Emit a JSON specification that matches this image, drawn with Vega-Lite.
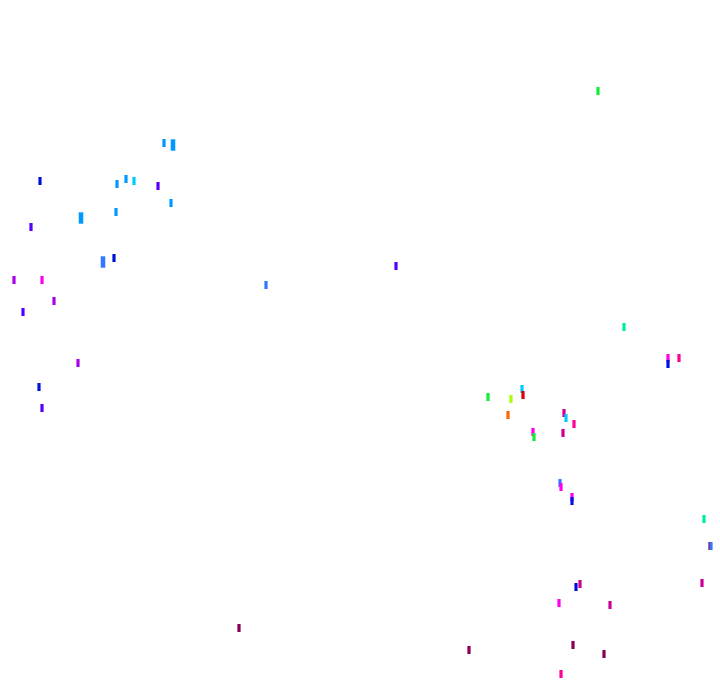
{
  "$schema": "https://vega.github.io/schema/vega-lite/v6.json",
  "width": 720,
  "height": 692,
  "autosize": {"type": "fit", "contains": "padding"},
  "padding": 0,
  "background": "white",
  "config": {"view": {"stroke": null}},
  "data": {
    "values": [
      {"x": 598, "y": 91, "g": "green", "w": 1},
      {"x": 164, "y": 143, "g": "skyblue", "w": 1},
      {"x": 173, "y": 145, "g": "skyblue", "w": 2},
      {"x": 40, "y": 181, "g": "navy", "w": 1},
      {"x": 117, "y": 184, "g": "skyblue", "w": 1},
      {"x": 126, "y": 179, "g": "skyblue", "w": 1},
      {"x": 134, "y": 181, "g": "cyan", "w": 1},
      {"x": 158, "y": 186, "g": "indigo", "w": 1},
      {"x": 171, "y": 203, "g": "skyblue", "w": 1},
      {"x": 116, "y": 212, "g": "skyblue", "w": 1},
      {"x": 81, "y": 218, "g": "skyblue", "w": 2},
      {"x": 31, "y": 227, "g": "indigo", "w": 1},
      {"x": 114, "y": 258, "g": "navy", "w": 1},
      {"x": 103, "y": 262, "g": "blue", "w": 2},
      {"x": 14, "y": 280, "g": "violet", "w": 1},
      {"x": 42, "y": 280, "g": "magenta", "w": 1},
      {"x": 54, "y": 301, "g": "violet", "w": 1},
      {"x": 23, "y": 312, "g": "indigo", "w": 1},
      {"x": 78, "y": 363, "g": "violet", "w": 1},
      {"x": 39, "y": 387, "g": "navy", "w": 1},
      {"x": 42, "y": 408, "g": "indigo", "w": 1},
      {"x": 266, "y": 285, "g": "blue", "w": 1},
      {"x": 396, "y": 266, "g": "indigo", "w": 1},
      {"x": 624, "y": 327, "g": "teal", "w": 1},
      {"x": 668, "y": 358, "g": "magenta", "w": 1},
      {"x": 668, "y": 364, "g": "navy", "w": 1},
      {"x": 679, "y": 358, "g": "pink", "w": 1},
      {"x": 522, "y": 389, "g": "cyan", "w": 1},
      {"x": 523, "y": 395, "g": "red", "w": 1},
      {"x": 488, "y": 397, "g": "green", "w": 1},
      {"x": 511, "y": 399, "g": "lime", "w": 1},
      {"x": 508, "y": 415, "g": "orange", "w": 1},
      {"x": 564, "y": 413, "g": "plum", "w": 1},
      {"x": 566, "y": 418, "g": "cyan", "w": 1},
      {"x": 574, "y": 424, "g": "pink", "w": 1},
      {"x": 533, "y": 432, "g": "magenta", "w": 1},
      {"x": 534, "y": 437, "g": "green", "w": 1},
      {"x": 563, "y": 433, "g": "plum", "w": 1},
      {"x": 560, "y": 483, "g": "blue", "w": 1},
      {"x": 561, "y": 487, "g": "magenta", "w": 1},
      {"x": 572, "y": 497, "g": "magenta", "w": 1},
      {"x": 572, "y": 501, "g": "navy", "w": 1},
      {"x": 704, "y": 519, "g": "teal", "w": 1},
      {"x": 710, "y": 546, "g": "maroon", "w": 1},
      {"x": 711, "y": 546, "g": "blue", "w": 1},
      {"x": 702, "y": 583, "g": "plum", "w": 1},
      {"x": 576, "y": 587, "g": "navy", "w": 1},
      {"x": 580, "y": 584, "g": "plum", "w": 1},
      {"x": 559, "y": 603, "g": "magenta", "w": 1},
      {"x": 610, "y": 605, "g": "plum", "w": 1},
      {"x": 239, "y": 628, "g": "maroon", "w": 1},
      {"x": 573, "y": 645, "g": "maroon", "w": 1},
      {"x": 604, "y": 654, "g": "maroon", "w": 1},
      {"x": 469, "y": 650, "g": "maroon", "w": 1},
      {"x": 561, "y": 674, "g": "pink", "w": 1}
    ]
  },
  "mark": {
    "type": "point",
    "shape": "M-0.4,-1H0.4V1H-0.4Z",
    "filled": true,
    "opacity": 1
  },
  "encoding": {
    "x": {"field": "x", "type": "quantitative", "axis": null, "scale": {"domain": [0, 720], "nice": false, "zero": false}},
    "y": {"field": "y", "type": "quantitative", "axis": null, "scale": {"domain": [0, 692], "nice": false, "zero": false, "reverse": true}},
    "size": {"field": "w", "type": "quantitative", "legend": null, "scale": {"domain": [1, 2], "range": [64, 130]}},
    "color": {
      "field": "g",
      "type": "nominal",
      "legend": null,
      "scale": {
        "domain": ["navy", "skyblue", "cyan", "indigo", "blue", "violet", "magenta", "plum", "maroon", "green", "lime", "red", "orange", "teal", "pink"],
        "range": ["#0011dd", "#0099ff", "#00ccff", "#5500ff", "#3377ff", "#aa00ee", "#ff00ee", "#cc0099", "#880055", "#11ee33", "#aaff00", "#dd0000", "#ff6600", "#00ee99", "#ff0099"]
      }
    }
  }
}
